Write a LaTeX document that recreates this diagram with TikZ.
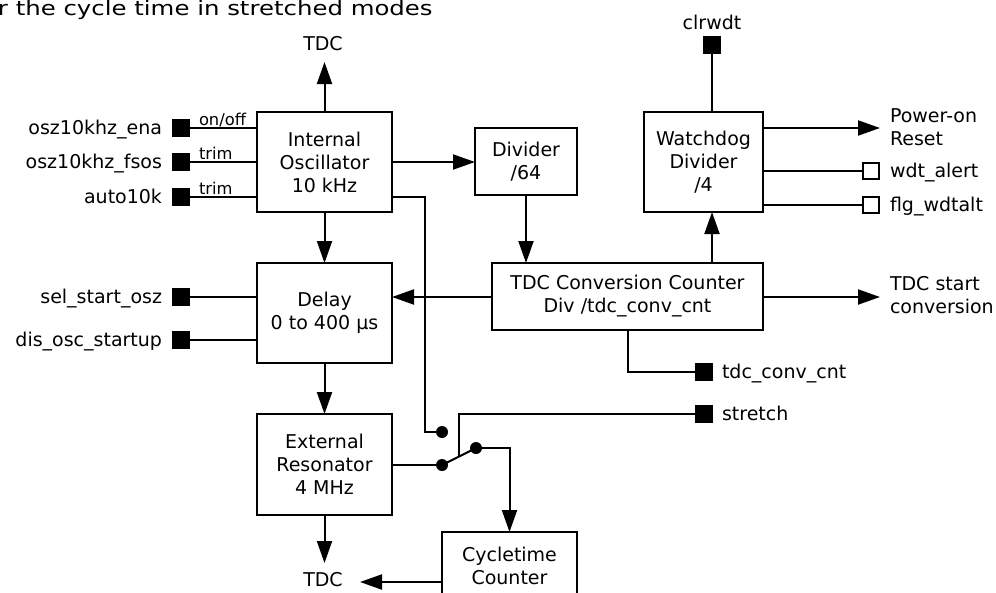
\documentclass[tikz,border=0pt]{standalone}
\usepackage{fontspec}
\setmainfont{DejaVu Sans}
\newfontfamily\headfont[FakeStretch=1.22]{DejaVu Sans}
\usetikzlibrary{arrows.meta,calc}

\newcommand\dgfont{\fontsize{19}{23}\selectfont}
\newcommand\dgsmall{\fontsize{16.3}{18}\selectfont}

\tikzset{
  every node/.style={inner sep=0pt, outer sep=0pt},
  blk/.style={draw, rectangle, align=center, font=\dgfont},
  lbl/.style={font=\dgfont, align=left},
  tiny/.style={font=\dgsmall},
  pin/.style={fill=black, rectangle, minimum size=18pt},
  opin/.style={draw, fill=white, rectangle, minimum size=16pt, line width=1.6pt},
  dot/.style={fill=black, circle, minimum size=12pt},
  arr/.style={-{Triangle[length=22pt,width=15pt]}},
}

\begin{document}
\begin{tikzpicture}[x=1pt, y=-1pt, line width=2pt]
\useasboundingbox (0,0) rectangle (996,592);

% caption fragment at the top
\node[anchor=base west] (cap) at (-2,15) {\headfont\fontsize{20}{24}\selectfont r the cycle time in stretched modes};

% blocks
\node[blk, minimum width=135pt, minimum height=100pt] (osc) at (324.5,162) {Internal\\Oscillator\\10 kHz};
\node[blk, minimum width=135pt, minimum height=100pt] (delay) at (324.5,313) {Delay\\0 to 400 µs};
\node[blk, minimum width=135pt, minimum height=101pt] (ext) at (324.5,464.5) {External\\Resonator\\4 MHz};
\node[blk, minimum width=102pt, minimum height=67pt] (div) at (526,161.5) {Divider\\/64};
\node[blk, minimum width=271pt, minimum height=67pt] (tdcc) at (627.5,296.5) {TDC Conversion Counter\\Div /tdc\_conv\_cnt};
\node[blk, minimum width=119pt, minimum height=100pt] (wd) at (703.5,162) {Watchdog\\Divider\\/4};
\node[blk, minimum width=135pt, minimum height=67pt] (cyc) at (509.5,565.5) {Cycletime\\Counter};

% oscillator inputs
\node[pin] (pEna) at (181,128) {};
\node[pin] (pFsos) at (181,162) {};
\node[pin] (pAuto) at (181,197) {};
\node[lbl, anchor=base east] (lEna) at (162,134.5) {osz10khz\_ena};
\node[lbl, anchor=base east] (lFsos) at (162,168.5) {osz10khz\_fsos};
\node[lbl, anchor=base east] (lAuto) at (162,203.5) {auto10k};
\draw (pEna) -- (pEna -| osc.west);
\draw (pFsos) -- (pFsos -| osc.west);
\draw (pAuto) -- (pAuto -| osc.west);
\node[tiny, anchor=base west] (tOn) at (199,125) {on/off};
\node[tiny, anchor=base west] (tTrim1) at (199,159) {trim};
\node[tiny, anchor=base west] (tTrim2) at (199,194) {trim};

% delay inputs
\node[pin] (pSel) at (181,297) {};
\node[pin] (pDis) at (181,340) {};
\node[lbl, anchor=base east] (lSel) at (162,303.5) {sel\_start\_osz};
\node[lbl, anchor=base east] (lDis) at (162,346.5) {dis\_osc\_startup};
\draw (pSel) -- (pSel -| delay.west);
\draw (pDis) -- (pDis -| delay.west);

% TDC outputs on the left column
\node[lbl] (tdcTop) at (323,44) {TDC};
\coordinate (tdcTopTip) at (324.5,62);
\draw[arr] (osc.north) -- (tdcTopTip);
\node[lbl] (tdcBot) at (323,580) {TDC};
\coordinate (tdcBotTip) at (324.5,563);
\draw[arr] (ext.south) -- (tdcBotTip);
\coordinate (cycTip) at (360,582);
\draw[arr] (cyc.west |- cycTip) -- (cycTip);

% main signal chain
\draw[arr] (osc.south) -- (delay.north);
\draw[arr] (delay.south) -- (ext.north);
\draw[arr] (osc.east |- 0,162) -- (div.west |- 0,162);
\draw[arr] (div.south) -- (div.south |- tdcc.north);
\draw[arr] (tdcc.west |- 0,297) -- (delay.east |- 0,297);
\draw[arr] (tdcc.north -| 712,0) -- (wd.south -| 712,0);

% stretch switch
\node[dot] (d1) at (442,432) {};
\node[dot] (d2) at (442,465) {};
\node[dot] (d3) at (476,448) {};
\draw (osc.east |- 0,197) -| (425,432) -- (d1);
\draw (ext.east |- d2) -- (d2);
\draw (d2.center) -- (d3.center);
\coordinate (lev) at ($(d2.center)!0.5!(d3.center)$);
\node[pin] (pStr) at (704,413.5) {};
\node[lbl, anchor=base west] (lStr) at (722,420) {stretch};
\draw (pStr) -| (lev);
\draw[arr] (d3) -| (cyc.north);

% counter outputs
\node[pin] (pCnt) at (704,372) {};
\node[lbl, anchor=base west] (lCnt) at (722,378.5) {tdc\_conv\_cnt};
\draw (tdcc.south) |- (pCnt);
\coordinate (startTip) at (880,297);
\draw[arr] (tdcc.east |- startTip) -- (startTip);
\node[lbl, anchor=west] (lStart) at (890,295.5) {TDC start\\conversion};

% watchdog
\node[lbl] (lClr) at (712,22) {clrwdt};
\node[pin] (pClr) at (712,44.5) {};
\draw (pClr) -- (pClr |- wd.north);
\coordinate (porTip) at (880,128);
\draw[arr] (wd.east |- porTip) -- (porTip);
\node[lbl, anchor=west] (lPor) at (890,127.5) {Power-on\\Reset};
\node[opin] (pAlert) at (871,171) {};
\node[opin] (pFlg) at (871,205) {};
\draw (wd.east |- pAlert) -- (pAlert);
\draw (wd.east |- pFlg) -- (pFlg);
\node[lbl, anchor=base west] (lAlert) at (890,177.5) {wdt\_alert};
\node[lbl, anchor=base west] (lFlg) at (890,211.5) {flg\_wdtalt};
\end{tikzpicture}
\end{document}
